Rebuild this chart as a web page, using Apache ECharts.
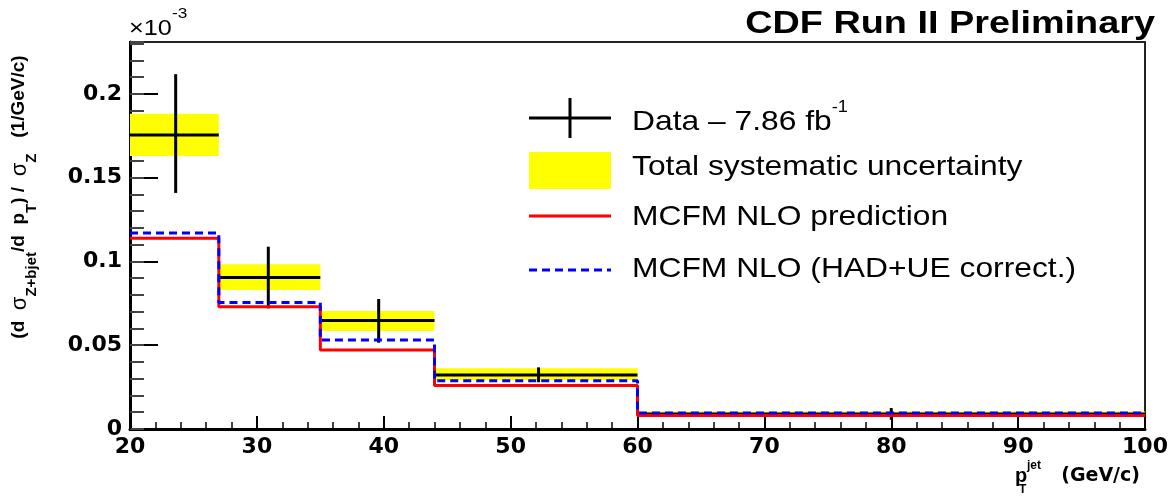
<!DOCTYPE html>
<html><head><meta charset="utf-8">
<script src="https://cdn.jsdelivr.net/npm/echarts@6/dist/echarts.min.js"></script>
<style>html,body{margin:0;padding:0;background:#fff}#c{width:1171px;height:497px}</style>
</head><body><div id="c"></div>
<script>
// ---- data ----
const binLow   = [20, 27, 35, 44, 60];
const binHigh  = [27, 35, 44, 60, 100];
const dataX    = [23.6, 30.9, 39.6, 52.2, 80.0];
const dataY    = [0.1755, 0.0905, 0.0647, 0.0322, 0.0090];
const statLow  = [0.1409, 0.0720, 0.0515, 0.0279, 0.0055];
const statHigh = [0.2118, 0.1088, 0.0776, 0.0368, 0.0125];
const sysLow   = [0.1630, 0.0830, 0.0585, 0.0292, 0.0075];
const sysHigh  = [0.1881, 0.0983, 0.0704, 0.0362, 0.0105];
const mcfmNLO  = [0.1138, 0.0730, 0.0472, 0.0259, 0.0080];
const mcfmHad  = [0.1170, 0.0755, 0.0531, 0.0288, 0.0095];
const yTickValues = [0, 0.05, 0.1, 0.15, 0.2];
const yTickLabels = ['0', '0.05', '0.1', '0.15', '0.2'];
const legendLabels = ['Data \u2013 7.86 fb', 'Total systematic uncertainty', 'MCFM NLO prediction', 'MCFM NLO (HAD+UE correct.)'];

// ---- build ----
const sysData  = binLow.map((l, i) => [l, binHigh[i], sysLow[i], sysHigh[i]]);
const ptData   = binLow.map((l, i) => [dataX[i], dataY[i], l, binHigh[i], statLow[i], statHigh[i]]);
const stepOf = arr => binLow.map((l, i) => [l, arr[i]]).concat([[binHigh[binHigh.length - 1], arr[arr.length - 1]]]);

const SANS = '"Liberation Sans", Arial, Helvetica, sans-serif';
const BOLDNUM = '"DejaVu Sans", sans-serif';

const chart = echarts.init(document.getElementById('c'), null, {renderer: 'canvas'});
const legY = [118, 170, 216, 270];
const legTextY = [116, 167, 217, 269];
const LX0 = 529, LX1 = 611, TX = 632;

chart.setOption({
  animation: false,
  backgroundColor: '#fff',
  grid: {left: 130, right: 26, top: 42, bottom: 68, show: true, borderColor: '#222', borderWidth: 2, backgroundColor: 'transparent'},
  xAxis: [{
    type: 'value', min: 20, max: 100, interval: 10,
    axisLine: {show: true, onZero: false, lineStyle: {color: '#000', width: 3}},
    axisTick: {show: true, inside: true, length: 13, lineStyle: {color: '#000', width: 2}},
    minorTick: {show: true, splitNumber: 5, length: 7, lineStyle: {color: '#000', width: 1.5}},
    splitLine: {show: false},
    axisLabel: {fontFamily: BOLDNUM, fontWeight: 'bold', fontSize: 22, color: '#000', margin: 7}
  }],
  yAxis: [{
    type: 'value', min: 0, max: 0.231, interval: 0.05,
    axisLine: {show: true, onZero: false, lineStyle: {color: '#000', width: 3}},
    axisTick: {show: true, inside: true, length: 28, lineStyle: {color: '#000', width: 2}},
    splitLine: {show: false},
    axisLabel: {
      fontFamily: BOLDNUM, fontWeight: 'bold', fontSize: 22, color: '#000', margin: 8, showMaxLabel: false,
      formatter: v => { const k = yTickValues.findIndex(t => Math.abs(t - v) < 1e-6); return k >= 0 ? yTickLabels[k] : ''; }
    }
  }, {
    type: 'value', min: 0, max: 0.231, interval: 0.01, position: 'left', offset: 0,
    axisLine: {show: false},
    axisTick: {show: true, inside: true, length: 14, lineStyle: {color: '#444', width: 2}},
    axisLabel: {show: false}, splitLine: {show: false}
  }],
  series: [
    {
      name: 'sys', type: 'custom', data: sysData, z: 2,
      renderItem: (params, api) => {
        const p1 = api.coord([api.value(0), api.value(3)]);
        const p2 = api.coord([api.value(1), api.value(2)]);
        return {type: 'rect', shape: {x: p1[0], y: p1[1], width: p2[0] - p1[0], height: p2[1] - p1[1]}, style: {fill: '#ffff00'}};
      }
    },
    {
      name: 'data', type: 'custom', data: ptData, z: 3,
      renderItem: (params, api) => {
        const c = api.coord([api.value(0), api.value(1)]);
        const l = api.coord([api.value(2), api.value(1)]);
        const r = api.coord([api.value(3), api.value(1)]);
        const lo = api.coord([api.value(0), api.value(4)]);
        const hi = api.coord([api.value(0), api.value(5)]);
        return {type: 'group', children: [
          {type: 'line', shape: {x1: l[0], y1: l[1], x2: r[0], y2: r[1]}, style: {stroke: '#000', lineWidth: 3}},
          {type: 'line', shape: {x1: c[0], y1: lo[1], x2: c[0], y2: hi[1]}, style: {stroke: '#000', lineWidth: 3}}
        ]};
      }
    },
    {
      name: 'MCFM NLO prediction', type: 'line', step: 'end', data: stepOf(mcfmNLO), symbol: 'none', z: 4,
      lineStyle: {color: '#ff0000', width: 3}
    },
    {
      name: 'MCFM NLO (HAD+UE correct.)', type: 'line', step: 'end', data: stepOf(mcfmHad), symbol: 'none', z: 5,
      lineStyle: {color: '#0000ff', width: 3, type: [8, 5]}
    }
  ],
  graphic: [
    // title
    {type: 'text', x: 1155, y: 24, scaleX: 1.22, z: 50,
     style: {text: 'CDF Run II Preliminary', font: 'bold 31px ' + SANS, fill: '#000', align: 'right', verticalAlign: 'middle'}},
    // x10^-3
    {type: 'text', x: 129, y: 6, scaleX: 1.15, z: 50,
     style: {text: '{m|\u00d710}{s|-3}', align: 'left', verticalAlign: 'top',
       rich: {m: {fontFamily: SANS, fontSize: 22, lineHeight: 34, verticalAlign: 'bottom', fill: '#000'},
              s: {fontFamily: SANS, fontSize: 15, lineHeight: 15, verticalAlign: 'top', fill: '#000'}}}},
    // y axis title
    {type: 'text', x: 24, y: 197, rotation: Math.PI / 2, z: 50,
     style: {text: '{b|(d  }{g|\u03c3}{s|Z+bjet}{b|/d  p}{s|T}{b|) /  }{g|\u03c3}{s|Z}{b|   (1/GeV/c)}', align: 'center', verticalAlign: 'middle',
       rich: {b: {fontFamily: SANS, fontWeight: 'bold', fontSize: 19, lineHeight: 30, verticalAlign: 'top', fill: '#000'},
              g: {fontFamily: SANS, fontSize: 22, lineHeight: 30, verticalAlign: 'top', fill: '#000'},
              s: {fontFamily: SANS, fontWeight: 'bold', fontSize: 15, lineHeight: 15, verticalAlign: 'bottom', fill: '#000'}}}},
    // x axis title
    {type: 'text', x: 1015, y: 476, z: 50, style: {text: 'p', font: 'bold 20px ' + SANS, fill: '#000', align: 'left', verticalAlign: 'middle'}},
    {type: 'text', x: 1027, y: 466, z: 50, style: {text: 'jet', font: 'bold 12px ' + SANS, fill: '#000', align: 'left', verticalAlign: 'middle'}},
    {type: 'text', x: 1019, y: 490, z: 50, style: {text: 'T', font: 'bold 12px ' + SANS, fill: '#000', align: 'left', verticalAlign: 'middle'}},
    {type: 'text', x: 1140, y: 476, z: 50, style: {text: '(GeV/c)', font: 'bold 19px ' + BOLDNUM, fill: '#000', align: 'right', verticalAlign: 'middle'}},
    // legend symbols
    {type: 'line', z: 50, shape: {x1: LX0, y1: legY[0], x2: LX1, y2: legY[0]}, style: {stroke: '#000', lineWidth: 3}},
    {type: 'line', z: 50, shape: {x1: (LX0 + LX1) / 2, y1: legY[0] - 20, x2: (LX0 + LX1) / 2, y2: legY[0] + 20}, style: {stroke: '#000', lineWidth: 3}},
    {type: 'rect', z: 50, shape: {x: LX0, y: legY[1] - 18, width: LX1 - LX0, height: 37}, style: {fill: '#ffff00'}},
    {type: 'line', z: 50, shape: {x1: LX0, y1: legY[2], x2: LX1, y2: legY[2]}, style: {stroke: '#ff0000', lineWidth: 3}},
    {type: 'line', z: 50, shape: {x1: LX0, y1: legY[3], x2: LX1, y2: legY[3]}, style: {stroke: '#0000ff', lineWidth: 3, lineDash: [8, 5]}},
    // legend texts
    {type: 'text', x: TX, y: legTextY[0] - 16, scaleX: 1.135, z: 50,
     style: {text: '{m|' + legendLabels[0] + '}{s|-1}', align: 'left', verticalAlign: 'top',
       rich: {m: {fontFamily: SANS, fontSize: 28, lineHeight: 36, verticalAlign: 'bottom', fill: '#000'},
              s: {fontFamily: SANS, fontSize: 16, lineHeight: 16, verticalAlign: 'top', fill: '#000'}}}},
    {type: 'text', x: TX, y: legTextY[1], scaleX: 1.135, z: 50, style: {text: legendLabels[1], font: '28px ' + SANS, fill: '#000', align: 'left', verticalAlign: 'middle'}},
    {type: 'text', x: TX, y: legTextY[2], scaleX: 1.135, z: 50, style: {text: legendLabels[2], font: '28px ' + SANS, fill: '#000', align: 'left', verticalAlign: 'middle'}},
    {type: 'text', x: TX, y: legTextY[3], scaleX: 1.135, z: 50, style: {text: legendLabels[3], font: '28px ' + SANS, fill: '#000', align: 'left', verticalAlign: 'middle'}}
  ]
});
</script>
</body></html>
